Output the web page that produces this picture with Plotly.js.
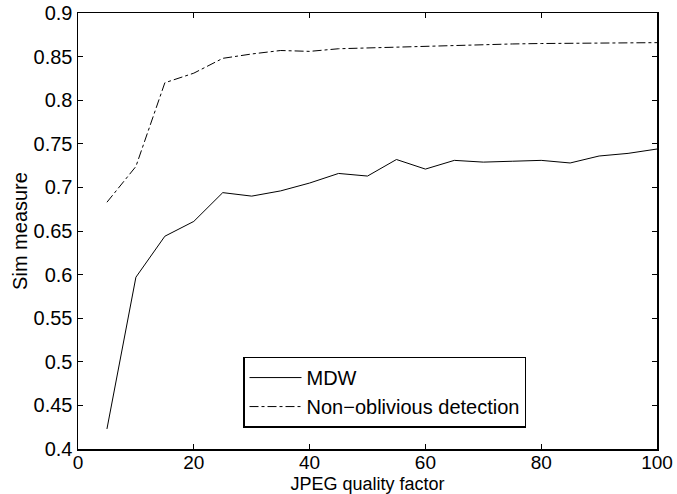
<!DOCTYPE html>
<html><head><meta charset="utf-8">
<script src="https://cdn.plot.ly/plotly-3.0.1.min.js"></script>
<style>html,body{margin:0;padding:0;background:#fff}#chart{width:677px;height:494px}</style>
</head><body><div id="chart"></div>
<script>
const quality = [5,10,15,20,25,30,35,40,45,50,55,60,65,70,75,80,85,90,95,100];
const mdw = [0.423,0.597,0.644,0.661,0.694,0.690,0.696,0.705,0.716,0.713,0.732,0.721,0.731,0.729,0.730,0.731,0.728,0.736,0.739,0.744];
const nonObl = [0.683,0.724,0.820,0.831,0.848,0.853,0.857,0.856,0.859,0.860,0.861,0.862,0.863,0.864,0.8645,0.865,0.8653,0.8655,0.8657,0.866];
const seriesNames = ["MDW","Non\u2212oblivious detection"];
const xTicks = [0,20,40,60,80,100];
const yTicks = [0.4,0.45,0.5,0.55,0.6,0.65,0.7,0.75,0.8,0.85,0.9];

const font = {family:"Liberation Sans, Arial, sans-serif", color:"#000"};
const traces = [
  {x:quality, y:mdw, name:seriesNames[0], mode:"lines", line:{color:"#000", width:1}},
  {x:quality, y:nonObl, name:seriesNames[1], mode:"lines", line:{color:"#000", width:1, dash:"dashdot"}}
];
const axisCommon = {showgrid:false, zeroline:false, showline:true, linecolor:"#000", linewidth:1.5, mirror:"ticks", ticks:"inside", ticklen:5, tickcolor:"#000", tickfont:Object.assign({size:20}, font)};
const layout = {
  width:677, height:494,
  margin:{l:78, r:20, t:13, b:45},
  paper_bgcolor:"#fff", plot_bgcolor:"#fff",
  showlegend:true,
  legend:{x:0.285, y:0.212, xanchor:"left", yanchor:"top", bordercolor:"#000", borderwidth:1.5, bgcolor:"#fff", font:Object.assign({size:20}, font), itemwidth:52, tracegroupgap:0},
  xaxis:Object.assign({}, axisCommon, {range:[0,100], tickvals:xTicks, ticktext:xTicks.map(String), tickfont:Object.assign({size:19}, font), ticklabelstandoff:-4, title:{text:"JPEG quality factor", font:Object.assign({size:18}, font), standoff:9}}),
  yaxis:Object.assign({}, axisCommon, {range:[0.4,0.9], tickvals:yTicks, ticktext:yTicks.map(v=>String(v)), title:{text:"Sim measure", font:Object.assign({size:20}, font), standoff:0}})
};
Plotly.newPlot("chart", traces, layout, {displayModeBar:false, staticPlot:true});
</script></body></html>
